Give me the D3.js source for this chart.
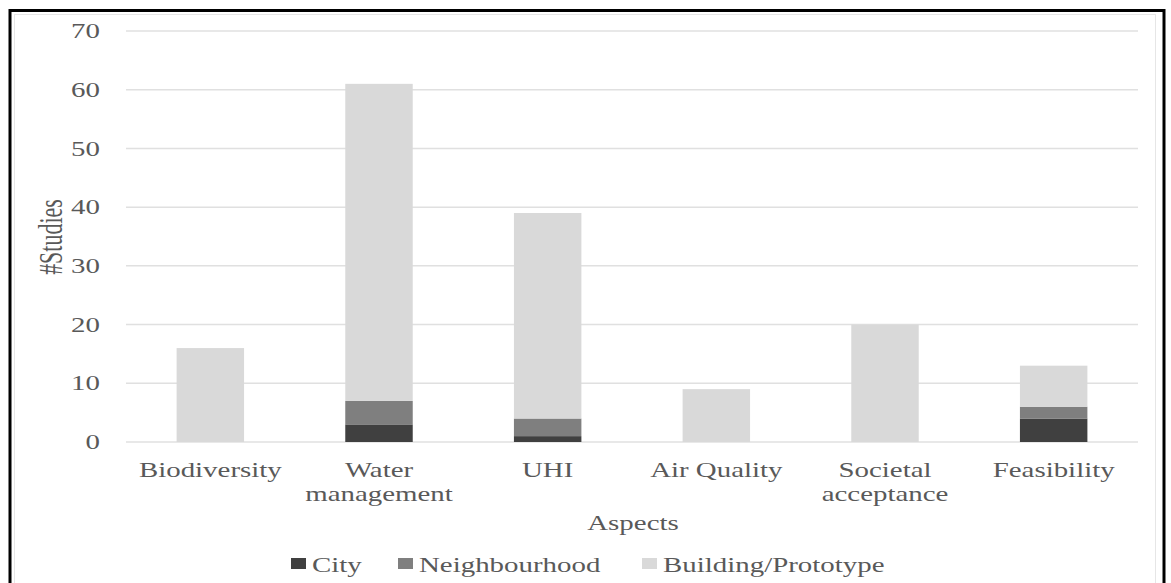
<!DOCTYPE html>
<html><head><meta charset="utf-8">
<script src="https://cdn.jsdelivr.net/npm/d3@7"></script>
<style>body{margin:0;background:#fff}svg{display:block}text{font-family:"Liberation Serif","Times New Roman",serif;fill:#595959}</style>
</head><body><svg id="c" width="1171" height="583"></svg>
<script>
const categories = [["Biodiversity"],["Water","management"],["UHI"],["Air Quality"],["Societal","acceptance"],["Feasibility"]];
const seriesNames = ["City","Neighbourhood","Building/Prototype"];
const city = [0,3,1,0,0,4];
const neighbourhood = [0,4,3,0,0,2];
const building = [16,54,35,9,20,7];
const yTicks = [0,10,20,30,40,50,60,70];
const colors = ["#404040","#7f7f7f","#d9d9d9"];

const svg = d3.select("#c");
const SX = 1.41, FS = 20.5;
// frame
svg.append("rect").attr("x",10).attr("y",10.5).attr("width",1154).attr("height",600).attr("fill","none").attr("stroke","#000").attr("stroke-width",3);
svg.append("rect").attr("x",14.5).attr("y",14.5).attr("width",1141).attr("height",600).attr("fill","none").attr("stroke","#e6e6e6").attr("stroke-width",1);

const x = d3.scaleBand().domain(categories.map((d,i)=>i)).range([126,1138]).paddingInner(0.6).paddingOuter(0.3);
const y = d3.scaleLinear().domain([0,70]).range([442,31]);

const data = categories.map((c,i)=>({i, City:city[i], Neighbourhood:neighbourhood[i], "Building/Prototype":building[i]}));
const stack = d3.stack().keys(seriesNames)(data);

// gridlines
svg.append("g").selectAll("line").data(yTicks).join("line")
  .attr("x1",126).attr("x2",1138).attr("y1",d=>y(d)).attr("y2",d=>y(d))
  .attr("stroke","#e0e0e0").attr("stroke-width",1.5);

// y labels
svg.append("g").selectAll("text").data(yTicks).join("text")
  .attr("transform",d=>`translate(100,${y(d)}) scale(${SX},1)`)
  .attr("text-anchor","end").attr("dy","0.35em").attr("font-size",FS).text(d=>d);

// bars
svg.append("g").selectAll("g").data(stack).join("g").attr("fill",(d,i)=>colors[i])
  .selectAll("rect").data(d=>d).join("rect")
  .attr("x",d=>x(d.data.i)).attr("width",x.bandwidth())
  .attr("y",d=>y(d[1])).attr("height",d=>y(d[0])-y(d[1]));

// category labels
const cl = svg.append("g").selectAll("g").data(categories).join("g")
  .attr("transform",(d,i)=>`translate(${x(i)+x.bandwidth()/2},0)`);
cl.selectAll("text").data(d=>d).join("text")
  .attr("transform",(d,j)=>`translate(0,${477+j*24}) scale(${SX},1)`)
  .attr("text-anchor","middle").attr("font-size",FS).text(d=>d);

// axis titles
svg.append("text").attr("transform",`translate(633,530) scale(${SX},1)`).attr("text-anchor","middle").attr("font-size",FS).text("Aspects");
svg.append("text").attr("transform",`translate(62,237) rotate(-90) scale(1,1.5)`).attr("text-anchor","middle").attr("font-size",22).text("#Studies");

// legend
const legX = [291,398,642];
const lg = svg.append("g").selectAll("g").data(seriesNames).join("g").attr("transform",(d,i)=>`translate(${legX[i]},572)`);
lg.append("rect").attr("x",0).attr("y",-14).attr("width",15).attr("height",11).attr("fill",(d,i)=>colors[i]);
lg.append("text").attr("transform",`translate(21,0) scale(${SX},1)`).attr("font-size",FS).text(d=>d);
</script></body></html>
